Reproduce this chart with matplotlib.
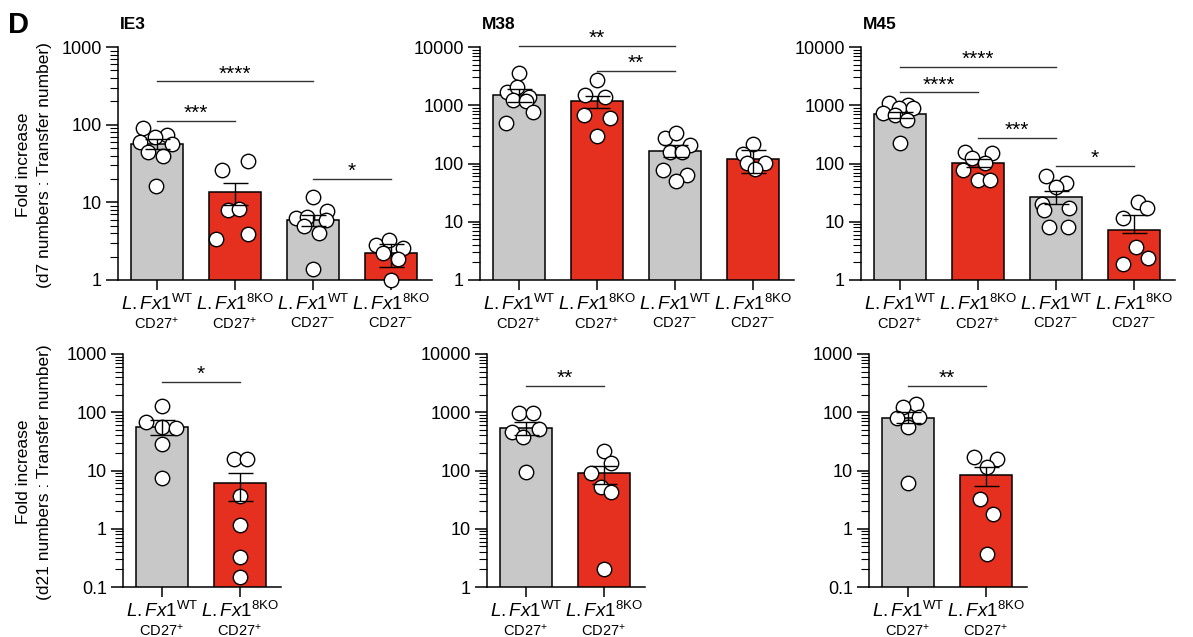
import numpy as np
import matplotlib.pyplot as plt
from matplotlib.ticker import FixedLocator, LogLocator, NullFormatter

plt.rcParams['font.family'] = ['Liberation Sans', 'DejaVu Sans']
plt.rcParams['mathtext.fontset'] = 'custom'
plt.rcParams['mathtext.it'] = 'Liberation Sans:italic'
plt.rcParams['mathtext.rm'] = 'Liberation Sans'
plt.rcParams['mathtext.bf'] = 'Liberation Sans:bold'

NARROW = ['Liberation Sans Narrow', 'Liberation Sans', 'DejaVu Sans']

# ---- data ----
genotype_d7 = ['WT', '8KO', 'WT', '8KO']
cd27_d7 = ['+', '+', '-', '-']
genotype_d21 = ['WT', '8KO']
cd27_d21 = ['+', '+']

# d7, IE3
ie3_d7_mean = [56, 13.6, 5.9, 2.2]
ie3_d7_lo = [48, 9.3, 4.9, 1.46]
ie3_d7_hi = [65, 17.9, 6.9, 2.9]
ie3_d7_pts = [[90, 73, 70, 60, 57, 45, 40, 16],
              [26, 33.7, 8.0, 8.1, 3.4, 3.9],
              [11.8, 7.8, 6.2, 6.5, 5.9, 5.0, 4.0, 1.4],
              [2.8, 3.3, 2.6, 2.2, 1.85, 1.0]]
ie3_d7_jit = [[-14, 10, -2, -17, 15, -9, 6, -1],
              [-13, 13, -7, 4, -19, 13],
              [0, 14, -17, -6, 13, -9, 6, 0],
              [-15, -2, 12, -8, 7, 0]]
ie3_d7_sig = [(0, 1, 112, '***'), (0, 2, 360, '****'), (2, 3, 20, '*')]

# d7, M38
m38_d7_mean = [1520, 1200, 166, 118]
m38_d7_lo = [1150, 880, 131, 70]
m38_d7_hi = [1870, 1450, 204, 168]
m38_d7_pts = [[3600, 1710, 2030, 1400, 1230, 1200, 776, 502],
              [2710, 1500, 1400, 680, 596, 297],
              [270, 330, 208, 160, 160, 77, 64, 51],
              [216, 146, 101, 101, 80]]
m38_d7_jit = [[0, -12, -2, 10, -6, 7, 14, -13],
              [0, -12, 8, -13, 13, 0],
              [-10, 1, 15, -5, 7, -12, 12, 1],
              [0, -10, 12, -6, 2]]
m38_d7_sig = [(0, 2, 10500, '**'), (1, 2, 3900, '**')]

# d7, M45
m45_d7_mean = [710, 102, 27, 7.2]
m45_d7_lo = [600, 87, 20, 6.3]
m45_d7_hi = [775, 118, 34, 13]
m45_d7_pts = [[1080, 1010, 727, 885, 890, 680, 558, 228],
              [160, 150, 123, 103, 77, 52, 52],
              [61, 46, 40, 20, 16, 17, 8.2, 8.2],
              [22, 17, 11.5, 3.7, 2.4, 1.9]]
m45_d7_jit = [[-11, 8, -17, -1, 13, -5, 7, 0],
              [-13, 14, -6, 7, -15, 0, 12],
              [-10, 10, 0, -14, -12, 13, -7, 12],
              [4, 13, -11, 2, 14, -11]]
m45_d7_sig = [(0, 2, 4600, '****'), (0, 1, 1660, '****'), (1, 2, 278, '***'), (2, 3, 92, '*')]

# d21, IE3
ie3_d21_mean = [56, 6.1]
ie3_d21_lo = [40, 3.0]
ie3_d21_hi = [73, 9.1]
ie3_d21_pts = [[128, 69, 55, 54, 29, 7.3],
               [16, 16, 3.6, 1.15, 0.33, 0.15]]
ie3_d21_jit = [[0, -16, 0, 14, 0, 0],
               [-6, 7, 0, 0, 0, 0]]
ie3_d21_sig = [(0, 1, 326, '*')]

# d21, M38
m38_d21_mean = [542, 89]
m38_d21_lo = [405, 58]
m38_d21_hi = [690, 119]
m38_d21_pts = [[955, 955, 462, 507, 369, 95],
               [218, 132, 91, 52, 42, 2.04]]
m38_d21_jit = [[-7, 7, -14, 13, -3, 0],
               [0, 7, -13, -3, 7, 0]]
m38_d21_sig = [(0, 1, 2820, '**')]

# d21, M45
m45_d21_mean = [81, 8.3]
m45_d21_lo = [65, 5.4]
m45_d21_hi = [102, 11.5]
m45_d21_pts = [[138, 121, 81, 84, 55, 6.1],
               [17, 16, 11.5, 3.2, 1.8, 0.37]]
m45_d21_jit = [[8, -5, -11, 11, 0, 0],
               [-12, 11, 1, -6, 7, 1]]
m45_d21_sig = [(0, 1, 282, '**')]

GREY = '#c8c8c8'
RED = '#e6301f'
PX_PER_UNIT = 78.0

W, H = 1193, 637
fig = plt.figure(figsize=(W / 100, H / 100), dpi=100)


def make_ax(left_px, top_px, n):
    width_px = (n + 0.03) * PX_PER_UNIT
    return fig.add_axes([left_px / W, 1 - (top_px + 233) / H, width_px / W, 233 / H])


def draw_panel(ax, mean, lo, hi, pts, jit, sig, genotypes, cd27, ylim, title=None):
    n = len(mean)
    x = np.arange(n)
    colors = [GREY if g == 'WT' else RED for g in genotypes]
    ax.bar(x, mean, width=0.667, color=colors, edgecolor='black', linewidth=1.1, zorder=2)
    for i in range(n):
        xs = i + np.array(jit[i]) / PX_PER_UNIT
        ax.scatter(xs, pts[i], s=108, facecolor='white', edgecolor='black',
                   linewidths=1.0, zorder=3, clip_on=False)
    yerr = [np.array(mean) - np.array(lo), np.array(hi) - np.array(mean)]
    ax.errorbar(x, mean, yerr=yerr, fmt='none', ecolor='black', elinewidth=1.0,
                capsize=9, capthick=1.0, zorder=4)

    for i, j, y, lab in sig:
        ax.plot([i, j], [y, y], color='#333333', lw=1.0, clip_on=False, zorder=5)
        ax.annotate(lab, xy=((i + j) / 2, y), xytext=(0, 1.5), textcoords='offset points',
                    ha='center', va='baseline', fontsize=15, annotation_clip=False)

    ax.set_yscale('log')
    ax.set_ylim(*ylim)
    ax.set_xlim(-0.5, n - 0.47)

    decades = 10.0 ** np.arange(np.log10(ylim[0]), np.log10(ylim[1]) + 0.5)
    ax.yaxis.set_major_locator(FixedLocator(decades))
    ax.yaxis.set_minor_locator(LogLocator(base=10, subs=np.arange(2, 10)))
    ax.yaxis.set_minor_formatter(NullFormatter())
    ax.set_yticklabels(['%g' % d for d in decades], fontfamily=NARROW, fontsize=13)

    ax.set_xticks(x)
    ax.set_xticklabels([r'$\mathit{L.Fx1}^{\mathrm{%s}}$' % g for g in genotypes], fontsize=13.5)
    for i, c in enumerate(cd27):
        ax.annotate(r'CD27$^{\mathrm{%s}}$' % c, xy=(i, 0), xycoords=('data', 'axes fraction'),
                    xytext=(0, -36), textcoords='offset pixels', ha='center', va='top',
                    fontsize=10.5, annotation_clip=False)

    for s in ['top', 'right']:
        ax.spines[s].set_visible(False)
    for s in ['left', 'bottom']:
        ax.spines[s].set_linewidth(1.1)
    ax.tick_params(axis='y', which='major', length=8.5, width=1.1, pad=3)
    ax.tick_params(axis='y', which='minor', length=5.5, width=0.8)
    ax.tick_params(axis='x', length=7, width=1.1, pad=3)

    if title:
        ax.annotate(title, xy=(0, 1), xycoords='axes fraction', xytext=(2, 18),
                    textcoords='offset pixels', ha='left', va='baseline',
                    fontsize=12.5, fontweight='bold')


ax1 = make_ax(118, 47, 4)
draw_panel(ax1, ie3_d7_mean, ie3_d7_lo, ie3_d7_hi, ie3_d7_pts, ie3_d7_jit, ie3_d7_sig,
           genotype_d7, cd27_d7, (1, 1000), 'IE3')
ax2 = make_ax(480, 47, 4)
draw_panel(ax2, m38_d7_mean, m38_d7_lo, m38_d7_hi, m38_d7_pts, m38_d7_jit, m38_d7_sig,
           genotype_d7, cd27_d7, (1, 10000), 'M38')
ax3 = make_ax(861, 47, 4)
draw_panel(ax3, m45_d7_mean, m45_d7_lo, m45_d7_hi, m45_d7_pts, m45_d7_jit, m45_d7_sig,
           genotype_d7, cd27_d7, (1, 10000), 'M45')

ax4 = make_ax(123, 354, 2)
draw_panel(ax4, ie3_d21_mean, ie3_d21_lo, ie3_d21_hi, ie3_d21_pts, ie3_d21_jit, ie3_d21_sig,
           genotype_d21, cd27_d21, (0.1, 1000))
ax5 = make_ax(487, 354, 2)
draw_panel(ax5, m38_d21_mean, m38_d21_lo, m38_d21_hi, m38_d21_pts, m38_d21_jit, m38_d21_sig,
           genotype_d21, cd27_d21, (1, 10000))
ax6 = make_ax(869, 354, 2)
draw_panel(ax6, m45_d21_mean, m45_d21_lo, m45_d21_hi, m45_d21_pts, m45_d21_jit, m45_d21_sig,
           genotype_d21, cd27_d21, (0.1, 1000))

fig.text(34 / W, 1 - 165 / H, 'Fold increase\n(d7 numbers : Transfer number)',
         rotation=90, ha='center', va='center', fontsize=12.5, linespacing=1.45)
fig.text(34 / W, 1 - 472 / H, 'Fold increase\n(d21 numbers : Transfer number)',
         rotation=90, ha='center', va='center', fontsize=12.5, linespacing=1.45)
fig.text(8 / W, 1 - 33 / H, 'D', fontsize=21, fontweight='bold', va='baseline')

fig.savefig('out.png', dpi=100)
